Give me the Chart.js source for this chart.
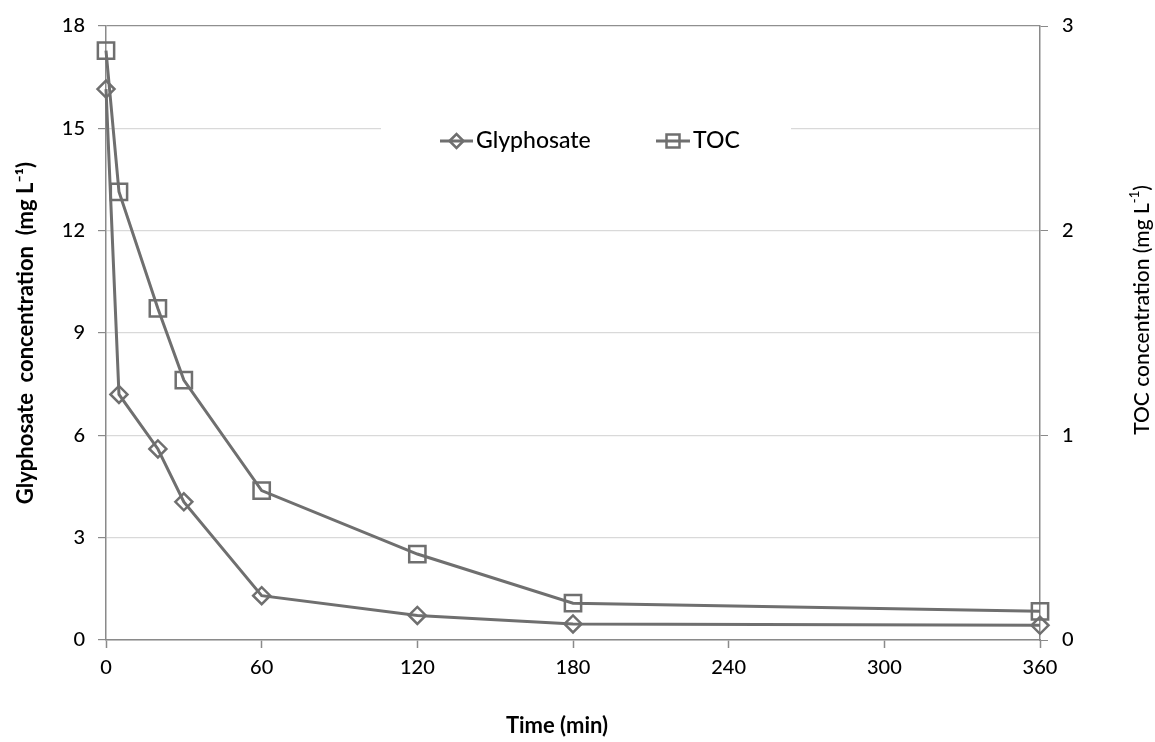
<!DOCTYPE html>
<html>
<head>
<meta charset="utf-8">
<script src="https://cdn.jsdelivr.net/npm/chart.js@4.4.0/dist/chart.umd.min.js"></script>
<style>
  html, body { margin: 0; padding: 0; background: #fff; }
  #wrap { width: 1155px; height: 742px; }
</style>
</head>
<body>
<div id="wrap"><canvas id="myChart" width="1155" height="742"></canvas></div>
<script>
// values
const times = [0, 5, 20, 30, 60, 120, 180, 360];
const glyphosate = [16.15, 7.2, 5.6, 4.05, 1.3, 0.72, 0.47, 0.43];
const toc = [2.88, 2.19, 1.62, 1.27, 0.73, 0.42, 0.18, 0.14];

const xTicks = [0, 60, 120, 180, 240, 300, 360];
const leftTicks = [0, 3, 6, 9, 12, 15, 18];
const rightTicks = [0, 1, 2, 3];

const lineColor = '#6f6f6f';
const axisColor = '#8a8a8a';
const textColor = '#000';

// legend drawn inside the plot with a white box behind it
const insideLegend = {
    id: 'insideLegend',
    afterDatasetsDraw(chart) {
        const ctx = chart.ctx;
        ctx.save();
        ctx.fillStyle = '#fff';
        ctx.fillRect(381, 108, 410, 62);
        const items = [
            { ds: chart.data.datasets[0], x0: 440, x1: 473 },
            { ds: chart.data.datasets[1], x0: 656, x1: 690 }
        ];
        const y = 141;
        items.forEach(it => {
            ctx.strokeStyle = it.ds.borderColor;
            ctx.lineWidth = 3;
            ctx.beginPath();
            ctx.moveTo(it.x0, y);
            ctx.lineTo(it.x1, y);
            ctx.stroke();
            const cx = (it.x0 + it.x1) / 2;
            ctx.lineWidth = 2.5;
            ctx.beginPath();
            if (it.ds.pointStyle === 'rectRot') {
                const r = 7;
                ctx.moveTo(cx - r, y);
                ctx.lineTo(cx, y - r);
                ctx.lineTo(cx + r, y);
                ctx.lineTo(cx, y + r);
                ctx.closePath();
            } else {
                ctx.rect(cx - 6.5, y - 6.5, 13, 13);
            }
            ctx.stroke();
            ctx.fillStyle = textColor;
            ctx.font = '500 23px Lato';
            ctx.textBaseline = 'middle';
            ctx.textAlign = 'left';
            ctx.fillText(it.ds.label, it.x1 + 3, y);
        });
        ctx.restore();
    },
    afterDraw(chart) {
        const ctx = chart.ctx;
        ctx.save();
        ctx.fillStyle = textColor;
        // x axis title (sits a little left of the plot centre in the reference)
        ctx.font = 'bold 22px Lato';
        ctx.textAlign = 'center';
        ctx.textBaseline = 'middle';
        ctx.fillText('Time (min)', 557, 726);

        // right axis title, reading bottom to top like the left one
        ctx.translate(1142, 310);
        ctx.rotate(-Math.PI / 2);
        ctx.textAlign = 'left';
        const main = 'TOC concentration (mg L';
        const sup = '-1';
        const close = ')';
        const big = '500 21px Lato';
        const small = '500 13px Lato';
        ctx.font = big;
        const w1 = ctx.measureText(main).width;
        const w3 = ctx.measureText(close).width;
        ctx.font = small;
        const w2 = ctx.measureText(sup).width;
        let x = -(w1 + w2 + w3) / 2;
        ctx.font = big;
        ctx.fillText(main, x, 0);
        x += w1;
        ctx.font = small;
        ctx.fillText(sup, x, -7);
        x += w2;
        ctx.font = big;
        ctx.fillText(close, x, 0);
        ctx.restore();
    }
};

const data = {
    datasets: [{
        label: 'Glyphosate',
        data: times.map((t, i) => ({ x: t, y: glyphosate[i] })),
        yAxisID: 'y',
        borderColor: lineColor,
        backgroundColor: 'rgba(0,0,0,0)',
        borderWidth: 3,
        pointStyle: 'rectRot',
        pointRadius: 8.5,
        pointBorderWidth: 2.5,
        pointBorderColor: lineColor,
        pointBackgroundColor: 'rgba(0,0,0,0)',
        tension: 0,
        clip: false
    }, {
        label: 'TOC',
        data: times.map((t, i) => ({ x: t, y: toc[i] })),
        yAxisID: 'y2',
        borderColor: lineColor,
        backgroundColor: 'rgba(0,0,0,0)',
        borderWidth: 3,
        pointStyle: 'rect',
        pointRadius: 11.5,
        pointBorderWidth: 2.5,
        pointBorderColor: lineColor,
        pointBackgroundColor: 'rgba(0,0,0,0)',
        tension: 0,
        clip: false
    }]
};

const tickFont = { family: 'Lato', size: 20, weight: '500' };

const options = {
    responsive: false,
    animation: false,
    layout: { padding: { top: 23, left: 0, right: 0, bottom: 0 } },
    plugins: {
        legend: { display: false },
        tooltip: { enabled: false }
    },
    scales: {
        x: {
            type: 'linear',
            min: 0,
            max: 360,
            afterBuildTicks: s => { s.ticks = xTicks.map(v => ({ value: v })); },
            afterFit: s => { s.height = 102; },
            grid: {
                drawOnChartArea: false,
                drawTicks: true,
                tickLength: 8,
                tickColor: axisColor,
                tickWidth: 1.5
            },
            border: { display: true, color: axisColor, width: 1.5 },
            ticks: {
                color: textColor,
                font: tickFont,
                padding: 8,
                maxRotation: 0
            }
        },
        y: {
            position: 'left',
            min: 0,
            max: 18,
            afterBuildTicks: s => { s.ticks = leftTicks.map(v => ({ value: v })); },
            afterFit: s => { s.width = 106; },
            grid: {
                color: ctx => ctx.tick && ctx.tick.value === 18 ? '#8f8f8f' : '#d9d9d9',
                lineWidth: 1.2,
                drawTicks: true,
                tickLength: 8,
                tickColor: axisColor
            },
            border: { display: true, color: axisColor, width: 1.5 },
            ticks: {
                color: textColor,
                font: tickFont,
                padding: 13
            },
            title: {
                display: true,
                text: 'Glyphosate  concentration  (mg L\u207B\u00B9)',
                color: textColor,
                font: { family: 'Lato', size: 22, weight: 'bold' },
                padding: { top: 13, bottom: 0 }
            }
        },
        y2: {
            position: 'right',
            min: 0,
            max: 3,
            afterBuildTicks: s => { s.ticks = rightTicks.map(v => ({ value: v })); },
            afterFit: s => { s.width = 115; },
            grid: {
                drawOnChartArea: false,
                drawTicks: true,
                tickLength: 8,
                tickColor: axisColor
            },
            border: { display: true, color: axisColor, width: 1.5 },
            ticks: {
                color: textColor,
                font: tickFont,
                padding: 14
            }
        }
    }
};

const ctx = document.getElementById('myChart').getContext('2d');
new Chart(ctx, {
    type: 'line',
    data: data,
    options: options,
    plugins: [insideLegend]
});
</script>
</body>
</html>
